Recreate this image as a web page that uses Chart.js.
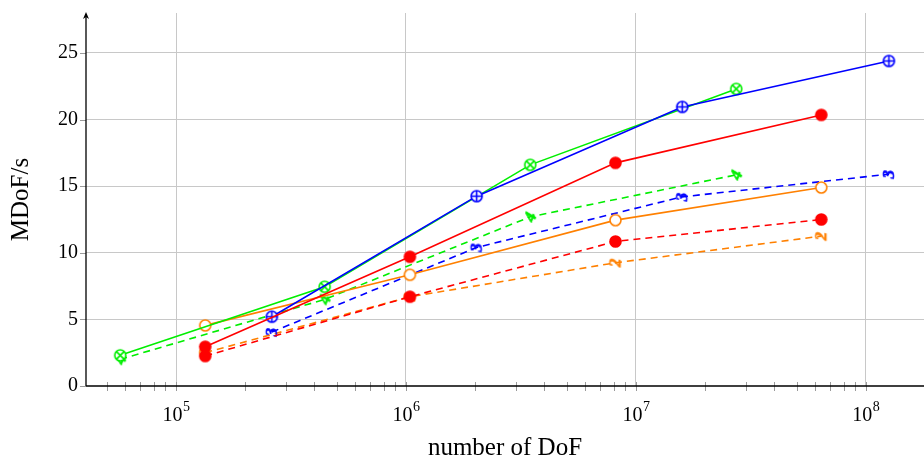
<!DOCTYPE html>
<html>
<head>
<meta charset="utf-8">
<script src="https://cdn.jsdelivr.net/npm/chart.js@4.4.1/dist/chart.umd.min.js"></script>
<style>
  html, body { margin: 0; padding: 0; background: #fff; }
  #wrap { width: 924px; height: 458px; }
</style>
</head>
<body>
<div id="wrap"><canvas id="chart" width="924" height="458"></canvas></div>
<script>
// valores
const xGreen = [5.72e4, 4.43e5, 3.47e6, 2.73e7];
const greenSolid = [2.3, 7.45, 16.6, 22.3];
const greenDashed = [2.0, 6.5, 12.7, 15.85];

const xBlue = [2.61e5, 2.03e6, 1.59e7, 1.26e8];
const blueSolid = [5.2, 14.25, 20.95, 24.4];
const blueDashed = [4.05, 10.4, 14.2, 15.9];

const xRedOrange = [1.34e5, 1.04e6, 8.15e6, 6.4e7];
const redSolid = [2.95, 9.7, 16.75, 20.35];
const redDashed = [2.25, 6.7, 10.85, 12.5];
const orangeSolid = [4.55, 8.35, 12.45, 14.9];
const orangeDashed = [2.5, 6.7, 9.25, 11.25];

const yTicks = [0, 5, 10, 15, 20, 25];
const xDecades = [5, 6, 7, 8];

const GREEN = '#00ee00', BLUE = '#0000ff', RED = '#ff0000', ORANGE = '#ff8000';
const SERIF = '"Liberation Serif", "DejaVu Serif", serif';

function pts(xs, ys) {
    return xs.map((x, i) => ({ x: x, y: ys[i] }));
}

// marcadores dibujados a mano
function ringMarker(color, kind) {
    const c = document.createElement('canvas');
    c.width = 15; c.height = 15;
    const g = c.getContext('2d');
    const r = 5.5;
    g.translate(7.5, 7.5);
    g.beginPath();
    if (kind === 'dot') {
        g.fillStyle = color;
        g.arc(0, 0, r + 0.8, 0, Math.PI * 2);
        g.fill();
        return c;
    }
    g.arc(0, 0, r, 0, Math.PI * 2);
    g.fillStyle = '#fff';
    g.fill();
    g.strokeStyle = color;
    g.lineWidth = 1.6;
    g.stroke();
    g.beginPath();
    if (kind === 'plus') {
        g.moveTo(-r, 0); g.lineTo(r, 0);
        g.moveTo(0, -r); g.lineTo(0, r);
    } else if (kind === 'times') {
        const d = r * 0.707;
        g.moveTo(-d, -d); g.lineTo(d, d);
        g.moveTo(-d, d); g.lineTo(d, -d);
    }
    g.stroke();
    return c;
}

function glyphMarker(ch, color, angle) {
    const c = document.createElement('canvas');
    c.width = 22; c.height = 22;
    const g = c.getContext('2d');
    g.translate(11, 11);
    g.rotate(angle);
    g.fillStyle = color;
    g.strokeStyle = color;
    g.lineWidth = 0.6;
    g.font = 'italic bold 17px ' + SERIF;
    g.textAlign = 'center';
    g.textBaseline = 'middle';
    g.fillText(ch, 0, 1);
    g.strokeText(ch, 0, 1);
    return c;
}

function series(xs, ys, color, marker, dashed) {
    return {
        data: pts(xs, ys),
        borderColor: color,
        backgroundColor: color,
        borderWidth: 1.6,
        borderDash: dashed ? [7, 5] : [],
        pointStyle: marker,
        pointRadius: 6,
        showLine: true,
        tension: 0
    };
}

// ejes, ticks menores y flecha
const axesPlugin = {
    id: 'axesPlugin',
    afterDraw(chart) {
        const g = chart.ctx;
        const a = chart.chartArea;
        const xs = chart.scales.x, ys = chart.scales.y;
        g.save();
        g.strokeStyle = '#9a9a9a';
        g.lineWidth = 1;
        for (let d = 4; d <= 8; d++) {
            for (let m = 1; m <= 9; m++) {
                const v = m * Math.pow(10, d);
                if (v < xs.min || v > xs.max) continue;
                const px = Math.round(xs.getPixelForValue(v)) + 0.5;
                g.beginPath();
                g.moveTo(px, a.bottom - 4);
                g.lineTo(px, a.bottom + 5);
                g.stroke();
            }
        }
        yTicks.forEach(v => {
            const py = Math.round(ys.getPixelForValue(v)) + 0.5;
            g.beginPath();
            g.moveTo(a.left - 6, py);
            g.lineTo(a.left, py);
            g.stroke();
        });
        g.strokeStyle = '#000';
        g.lineWidth = 1.3;
        g.beginPath();
        g.moveTo(a.left, a.bottom);
        g.lineTo(a.right, a.bottom);
        g.moveTo(a.left, a.bottom);
        g.lineTo(a.left, a.top + 1);
        g.stroke();
        g.fillStyle = '#000';
        g.beginPath();
        g.moveTo(a.left, a.top - 1);
        g.lineTo(a.left - 3, a.top + 6);
        g.lineTo(a.left, a.top + 4);
        g.lineTo(a.left + 3, a.top + 6);
        g.closePath();
        g.fill();
        // etiquetas 10^n
        g.textBaseline = 'alphabetic';
        xDecades.forEach(d => {
            const px = xs.getPixelForValue(Math.pow(10, d));
            g.font = '20px ' + SERIF;
            const w1 = g.measureText('10').width;
            g.font = '14px ' + SERIF;
            const w2 = g.measureText(String(d)).width;
            const x0 = px - (w1 + w2) / 2;
            g.font = '20px ' + SERIF;
            g.textAlign = 'left';
            g.fillText('10', x0, 421);
            g.font = '14px ' + SERIF;
            g.fillText(String(d), x0 + w1 + 0.5, 411);
        });
        g.restore();
    }
};

const ctx = document.getElementById('chart').getContext('2d');
new Chart(ctx, {
    type: 'scatter',
    data: {
        datasets: [
            series(xRedOrange, redSolid, RED, ringMarker(RED, 'dot'), false),
            series(xRedOrange, redDashed, RED, ringMarker(RED, 'dot'), true),
            series(xBlue, blueSolid, BLUE, ringMarker(BLUE, 'plus'), false),
            series(xGreen, greenSolid, GREEN, ringMarker(GREEN, 'times'), false),
            series(xRedOrange, orangeSolid, ORANGE, ringMarker(ORANGE, 'open'), false),
            series(xBlue, blueDashed, BLUE, glyphMarker('3', BLUE, -Math.PI / 2), true),
            series(xGreen, greenDashed, GREEN, glyphMarker('4', GREEN, -Math.PI / 2.6), true),
            series(xRedOrange, orangeDashed, ORANGE, glyphMarker('2', ORANGE, -Math.PI / 2), true)
        ]
    },
    options: {
        responsive: false,
        animation: false,
        events: [],
        layout: { autoPadding: false, padding: { top: 13, right: 0, left: 0, bottom: 0 } },
        plugins: {
            legend: { display: false },
            tooltip: { enabled: false }
        },
        scales: {
            x: {
                type: 'logarithmic',
                min: 40600,
                max: 1.79e8,
                afterFit(s) { s.height = 72; s.paddingLeft = 0; s.paddingRight = 0; },
                afterBuildTicks(s) {
                    s.ticks = xDecades.map(d => ({ value: Math.pow(10, d) }));
                },
                border: { display: false },
                grid: { color: '#c8c8c8', lineWidth: 1, drawTicks: false },
                ticks: { display: false },
                title: {
                    display: true,
                    text: 'number of DoF',
                    font: { family: SERIF, size: 25, lineHeight: 0.75 },
                    color: '#000',
                    padding: { top: 0, bottom: 0 }
                }
            },
            y: {
                min: 0,
                max: 28,
                afterFit(s) { s.width = 86; s.paddingTop = 0; s.paddingBottom = 0; },
                afterBuildTicks(s) {
                    s.ticks = yTicks.map(v => ({ value: v }));
                },
                border: { display: false },
                grid: {
                    color: ctx2 => ctx2.tick && ctx2.tick.value === 0 ? 'rgba(0,0,0,0)' : '#c8c8c8',
                    lineWidth: 1,
                    drawTicks: false
                },
                ticks: {
                    padding: 8,
                    color: '#000',
                    font: { family: SERIF, size: 20 }
                },
                title: {
                    display: true,
                    text: 'MDoF/s',
                    font: { family: SERIF, size: 25, lineHeight: 1.2 },
                    color: '#000',
                    padding: { top: 6, bottom: 0 }
                }
            }
        }
    },
    plugins: [axesPlugin]
});
</script>
</body>
</html>
